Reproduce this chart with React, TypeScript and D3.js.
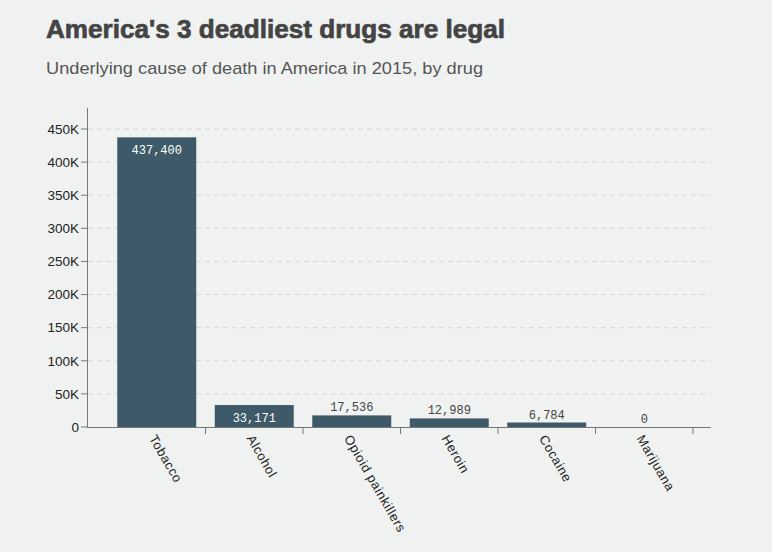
import React from "react";
import * as d3 from "d3";

const categories = ["Tobacco", "Alcohol", "Opioid painkillers", "Heroin", "Cocaine", "Marijuana"];
const deaths = [437400, 33171, 17536, 12989, 6784, 0];
const yTicks = [0, 50000, 100000, 150000, 200000, 250000, 300000, 350000, 400000, 450000];

const W = 772;
const H = 552;

export default function App() {
  const x = d3.scaleBand<string>().domain(categories).range([108, 693]).paddingInner(0.19).paddingOuter(0.095);
  const y = d3.scaleLinear().domain([0, 450000]).range([427, 129]);
  const fmt = d3.format(",");
  const tickFmt = (v: number) => (v === 0 ? "0" : `${v / 1000}K`);
  const step = x.step();
  const bg = "#f0f2f1";
  return (
    <div style={{ position: "fixed", left: 0, top: 0, width: W, height: H, background: bg }}>
      <svg width={W} height={H} style={{ display: "block" }}>
        <rect width={W} height={H} fill={bg} />
        <text x={46} y={38} fontFamily="Liberation Sans, Arial, sans-serif" fontWeight="bold" fontSize={26} fill="#444" stroke="#444" strokeWidth={0.7} textLength={459} lengthAdjust="spacingAndGlyphs">
          America's 3 deadliest drugs are legal
        </text>
        <text x={46} y={74} fontFamily="Liberation Sans, Arial, sans-serif" fontSize={17} fill="#555" textLength={437} lengthAdjust="spacingAndGlyphs">
          Underlying cause of death in America in 2015, by drug
        </text>
        {yTicks.filter((t) => t > 0).map((t) => (
          <line key={"g" + t} x1={88} x2={711} y1={y(t)} y2={y(t)} stroke="#d4d7d6" strokeDasharray="5,4" strokeWidth={1} />
        ))}
        {categories.map((c, i) => {
          const v = deaths[i];
          const bx = x(c)!;
          const by = y(v);
          const inside = v > 30000;
          return (
            <g key={c}>
              <rect x={bx} y={by} width={x.bandwidth()} height={427 - by} fill="#3e5a68" />
              <text
                x={bx + x.bandwidth() / 2}
                y={inside ? by + 17 : by - 4}
                textAnchor="middle"
                fontFamily="Liberation Mono, DejaVu Sans Mono, monospace"
                fontSize={12}
                fill={inside ? "#ffffff" : "#444"}
              >
                {fmt(v)}
              </text>
            </g>
          );
        })}
        <line x1={87.5} x2={87.5} y1={108} y2={427} stroke="#777" strokeWidth={1} />
        {yTicks.map((t) => (
          <g key={"t" + t}>
            <line x1={81} x2={87.5} y1={y(t)} y2={y(t)} stroke="#777" />
            <text x={79} y={y(t)} dy="0.35em" textAnchor="end" fontFamily="Liberation Sans, Arial, sans-serif" fontSize={13.5} fill="#222">
              {tickFmt(t)}
            </text>
          </g>
        ))}
        <line x1={87} x2={711} y1={427.5} y2={427.5} stroke="#777" strokeWidth={1} />
        {categories.map((c) => {
          const tx = x(c)! + x.bandwidth() + (step - x.bandwidth()) / 2;
          const cx = x(c)! + x.bandwidth() / 2;
          return (
            <g key={"x" + c}>
              <line x1={tx} x2={tx} y1={427} y2={434} stroke="#777" />
              <text
                transform={`translate(${cx - 4},${436}) rotate(60)`}
                dy="0.35em"
                textAnchor="start"
                fontFamily="Liberation Sans, Arial, sans-serif"
                fontSize={13}
                letterSpacing={0.6}
                fill="#222"
              >
                {c}
              </text>
            </g>
          );
        })}
      </svg>
    </div>
  );
}
